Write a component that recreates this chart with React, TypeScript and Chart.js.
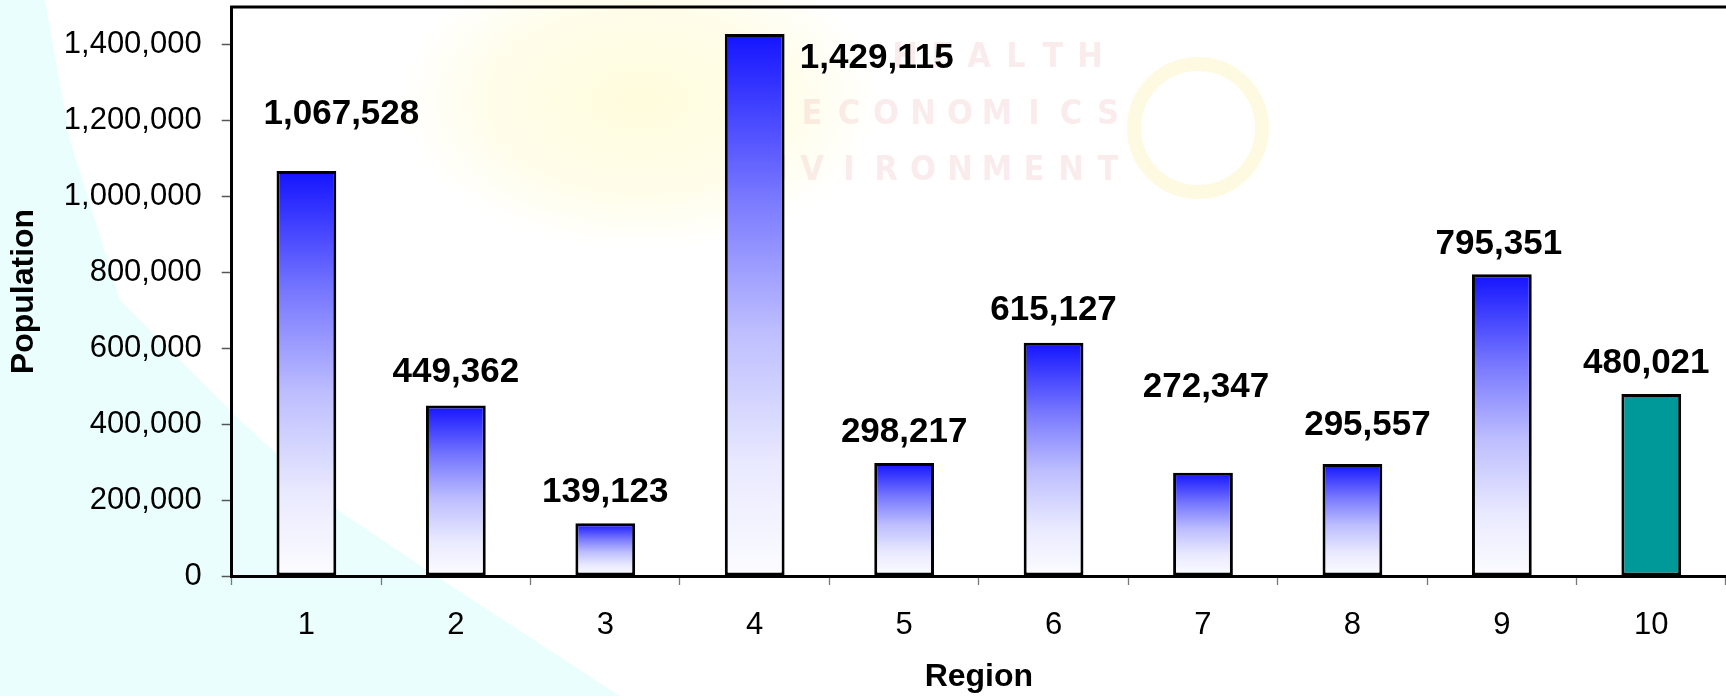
import React, { useEffect, useRef } from 'react';
import { Chart, registerables } from 'chart.js';

Chart.register(...registerables);

// ---- data ----
const regions = ['1', '2', '3', '4', '5', '6', '7', '8', '9', '10'];
const population = [1067528, 449362, 139123, 1429115, 298217, 615127, 272347, 295557, 795351, 480021];
const yTickValues = [0, 200000, 400000, 600000, 800000, 1000000, 1200000, 1400000];
const yMax = 1500000;
const highlightIndex = 9;

// ---- label placement (pixel offsets of label centre from bar-top centre) ----
const labelDx = [35, 0, 0, 122, 0, 0, 3, 15, -3, -5];
const labelDy = [-57, -33, -31, 24, -31, -32, -85, -39, -30, -31];

const FONT = '"Liberation Sans", Arial, sans-serif';
const fmt = (v: number) => Number(v).toLocaleString('en-US');

const backgroundPlugin = {
  id: 'slideBackground',
  beforeDraw(chart: any) {
    const { ctx, width, height } = chart;
    ctx.save();
    ctx.fillStyle = '#ffffff';
    ctx.fillRect(0, 0, width, height);
    // light cyan slide shape
    ctx.fillStyle = '#eafffd';
    ctx.beginPath();
    ctx.moveTo(0, 0);
    ctx.lineTo(45, 0);
    ctx.lineTo(70, 140);
    ctx.lineTo(120, 300);
    ctx.lineTo(240, 420);
    ctx.lineTo(338, 510);
    ctx.lineTo(427, 570);
    ctx.lineTo(620, 696);
    ctx.lineTo(0, 696);
    ctx.closePath();
    ctx.fill();
    // faint yellow glow (elliptical)
    ctx.save();
    ctx.translate(640, 100);
    ctx.scale(1.6, 1);
    const g = ctx.createRadialGradient(0, 0, 10, 0, 0, 150);
    g.addColorStop(0, 'rgba(255,250,195,0.55)');
    g.addColorStop(0.6, 'rgba(255,250,195,0.35)');
    g.addColorStop(1, 'rgba(255,250,195,0)');
    ctx.fillStyle = g;
    ctx.fillRect(-160, -160, 320, 320);
    ctx.restore();
    // faint logo ring
    ctx.strokeStyle = 'rgba(250,238,150,0.28)';
    ctx.lineWidth = 14;
    ctx.beginPath();
    ctx.arc(1198, 128, 64, 0, Math.PI * 2);
    ctx.stroke();
    // faint watermark text
    ctx.fillStyle = 'rgba(228,140,140,0.17)';
    ctx.font = `bold 34px "DejaVu Sans Condensed", "Liberation Sans Narrow", sans-serif`;
    ctx.textAlign = 'center';
    ctx.textBaseline = 'middle';
    const rows: [string, number, number][] = [
      ['HEALTH', 905, 58],
      ['ECONOMICS', 812, 115],
      ['ENVIRONMENT', 738, 171],
    ];
    rows.forEach(([word, x0, y]) => {
      word.split('').forEach((ch, i) => ctx.fillText(ch, x0 + i * 37, y));
    });
    ctx.restore();
  },
};

const framePlugin = {
  id: 'frame',
  afterDraw(chart: any) {
    const { ctx, chartArea } = chart;
    ctx.save();
    ctx.strokeStyle = '#000';
    ctx.lineWidth = 3;
    ctx.beginPath();
    ctx.moveTo(chartArea.left - 1.5, chartArea.top);
    ctx.lineTo(chartArea.right, chartArea.top);
    ctx.stroke();
    ctx.restore();
  },
};

const valueLabelPlugin = {
  id: 'valueLabels',
  afterDatasetsDraw(chart: any) {
    const { ctx } = chart;
    const meta = chart.getDatasetMeta(0);
    ctx.save();
    ctx.fillStyle = '#000';
    ctx.font = `bold 35px ${FONT}`;
    ctx.textAlign = 'center';
    ctx.textBaseline = 'middle';
    meta.data.forEach((bar: any, i: number) => {
      ctx.fillText(fmt(population[i]), bar.x + labelDx[i], bar.y + labelDy[i]);
    });
    ctx.restore();
  },
};

export default function App() {
  const canvasRef = useRef<HTMLCanvasElement | null>(null);

  useEffect(() => {
    const canvas = canvasRef.current;
    if (!canvas) return;
    const chart = new Chart(canvas, {
      type: 'bar',
      data: {
        labels: regions,
        datasets: [
          {
            data: population,
            barPercentage: 0.4,
            categoryPercentage: 1.0,
            borderColor: '#000',
            borderWidth: 3,
            borderSkipped: false,
            backgroundColor: (c: any) => {
              if (c.dataIndex === highlightIndex) return '#009999';
              const ch = c.chart;
              if (!ch.chartArea || !ch.scales.y) return '#4040ff';
              const ys = ch.scales.y;
              const top = ys.getPixelForValue(c.raw);
              const bottom = ys.getPixelForValue(0);
              const g = ch.ctx.createLinearGradient(0, top, 0, bottom);
              g.addColorStop(0, 'rgb(20,20,255)');
              g.addColorStop(0.3, 'rgb(120,120,255)');
              g.addColorStop(0.55, 'rgb(190,190,255)');
              g.addColorStop(0.8, 'rgb(234,234,255)');
              g.addColorStop(1, 'rgb(252,252,255)');
              return g;
            },
          },
        ],
      },
      options: {
        animation: false,
        responsive: false,
        devicePixelRatio: 1,
        layout: { padding: { top: 7, left: 0, right: 0, bottom: 0 } },
        plugins: {
          legend: { display: false },
          tooltip: { enabled: false },
        },
        scales: {
          x: {
            offset: true,
            grid: {
              offset: true,
              drawOnChartArea: false,
              drawTicks: true,
              tickLength: 9,
              tickColor: '#777',
              tickWidth: 1.3,
            },
            border: { display: true, color: '#000', width: 3 },
            ticks: {
              color: '#000',
              font: { family: FONT, size: 31 },
              padding: 22,
              maxRotation: 0,
              autoSkip: false,
            },
            title: {
              display: true,
              text: 'Region',
              color: '#000',
              font: { family: FONT, size: 32, weight: 'bold' },
              padding: { top: 0, bottom: 0 },
            },
            afterFit: (s: any) => {
              s.height = 120;
              s.paddingLeft = 0;
              s.paddingRight = 0;
            },
          },
          y: {
            min: 0,
            max: yMax,
            afterBuildTicks: (s: any) => {
              s.ticks = yTickValues.map((v) => ({ value: v }));
            },
            grid: {
              drawOnChartArea: false,
              drawTicks: true,
              tickLength: 10,
              tickColor: '#555',
              tickWidth: 1.5,
            },
            border: { display: true, color: '#000', width: 3 },
            ticks: {
              color: '#000',
              font: { family: FONT, size: 31 },
              padding: 20,
              callback: (v: any) => fmt(Number(v)),
            },
            title: {
              display: true,
              text: 'Population',
              color: '#000',
              font: { family: FONT, size: 32, weight: 'bold' },
              padding: { top: 5, bottom: 0 },
            },
            afterFit: (s: any) => {
              s.width = 231.7;
              s.paddingTop = 0;
              s.paddingBottom = 0;
            },
          },
        },
      } as any,
      plugins: [backgroundPlugin, framePlugin, valueLabelPlugin],
    });
    return () => chart.destroy();
  }, []);

  return (
    <div style={{ position: 'fixed', left: 0, top: 0, width: 1726, height: 696 }}>
      <canvas ref={canvasRef} width={1726} height={696} style={{ width: 1726, height: 696, display: 'block' }} />
    </div>
  );
}
